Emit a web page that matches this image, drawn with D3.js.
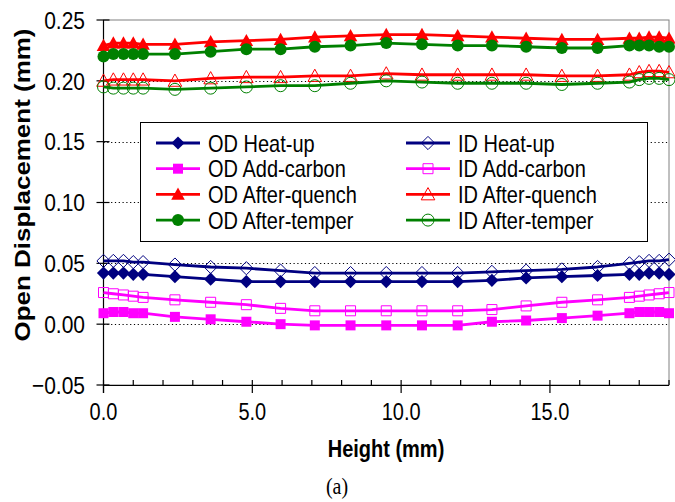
<!DOCTYPE html>
<html>
<head>
<meta charset="utf-8">
<script src="https://cdn.jsdelivr.net/npm/d3@7"></script>
<style>
  body { margin: 0; background: #fff; }
  text { font-family: Arial, "Liberation Sans", sans-serif; }
</style>
</head>
<body>
<svg id="chart" width="675" height="502"></svg>
<script>
// Measurement positions along the height (mm)
const heights = [0, 0.33, 0.67, 1.0, 1.33, 2.4, 3.6, 4.8, 5.95, 7.1, 8.3, 9.5, 10.7, 11.9, 13.05, 14.2, 15.4, 16.6, 17.67, 18.0, 18.33, 18.67, 19.0];

// Opening displacement (mm), outer-diameter side
const odHeatUp       = [0.042, 0.042, 0.042, 0.041, 0.041, 0.039, 0.037, 0.035, 0.035, 0.035, 0.035, 0.035, 0.035, 0.035, 0.036, 0.038, 0.039, 0.040, 0.041, 0.041, 0.042, 0.042, 0.041];
const odAddCarbon    = [0.009, 0.010, 0.010, 0.009, 0.009, 0.006, 0.004, 0.002, 0.000, -0.001, -0.001, -0.001, -0.001, -0.001, 0.002, 0.003, 0.005, 0.007, 0.009, 0.010, 0.010, 0.010, 0.009];
const odAfterQuench  = [0.229, 0.231, 0.231, 0.231, 0.230, 0.230, 0.232, 0.233, 0.234, 0.236, 0.237, 0.238, 0.238, 0.237, 0.236, 0.235, 0.234, 0.234, 0.235, 0.235, 0.236, 0.236, 0.235];
const odAfterTemper  = [0.220, 0.222, 0.222, 0.222, 0.222, 0.222, 0.224, 0.226, 0.226, 0.228, 0.229, 0.231, 0.230, 0.229, 0.229, 0.228, 0.227, 0.227, 0.229, 0.229, 0.229, 0.228, 0.228];

// Opening displacement (mm), inner-diameter side
const idHeatUp       = [0.052, 0.052, 0.052, 0.051, 0.051, 0.049, 0.047, 0.046, 0.044, 0.042, 0.042, 0.042, 0.042, 0.042, 0.043, 0.044, 0.045, 0.047, 0.050, 0.051, 0.052, 0.052, 0.053];
const idAddCarbon    = [0.026, 0.025, 0.024, 0.023, 0.022, 0.020, 0.018, 0.016, 0.013, 0.011, 0.011, 0.011, 0.011, 0.011, 0.012, 0.015, 0.018, 0.020, 0.022, 0.023, 0.024, 0.025, 0.026];
const idAfterQuench  = [0.200, 0.201, 0.201, 0.201, 0.201, 0.200, 0.202, 0.203, 0.203, 0.204, 0.204, 0.206, 0.205, 0.205, 0.205, 0.205, 0.204, 0.204, 0.205, 0.207, 0.208, 0.208, 0.207];
const idAfterTemper  = [0.195, 0.194, 0.194, 0.194, 0.194, 0.193, 0.194, 0.195, 0.196, 0.196, 0.198, 0.200, 0.199, 0.198, 0.198, 0.198, 0.197, 0.198, 0.199, 0.201, 0.202, 0.202, 0.201];

const xTicks = [0, 5, 10, 15];
const yTicks = [-0.05, 0.00, 0.05, 0.10, 0.15, 0.20, 0.25];
const gridValues = [0.00, 0.05, 0.10, 0.15, 0.20];

const seriesList = [
  { name: "OD Heat-up",      values: odHeatUp,      color: "#000080", shape: "diamond",  filled: true,  col: 0, row: 0 },
  { name: "OD Add-carbon",   values: odAddCarbon,   color: "#FF00FF", shape: "square",   filled: true,  col: 0, row: 1 },
  { name: "OD After-quench", values: odAfterQuench, color: "#FF0000", shape: "triangle", filled: true,  col: 0, row: 2 },
  { name: "OD After-temper", values: odAfterTemper, color: "#008000", shape: "circle",   filled: true,  col: 0, row: 3 },
  { name: "ID Heat-up",      values: idHeatUp,      color: "#000080", shape: "diamond",  filled: false, col: 1, row: 0 },
  { name: "ID Add-carbon",   values: idAddCarbon,   color: "#FF00FF", shape: "square",   filled: false, col: 1, row: 1 },
  { name: "ID After-quench", values: idAfterQuench, color: "#FF0000", shape: "triangle", filled: false, col: 1, row: 2 },
  { name: "ID After-temper", values: idAfterTemper, color: "#008000", shape: "circle",   filled: false, col: 1, row: 3 }
];

const svg = d3.select("#chart");
const pL = 103.5, pR = 669, pT = 20, pB = 385;
const TS = 1.18; // vertical stretch of the lettering

const x = d3.scaleLinear().domain([0, 19]).range([pL, pR]);
const y = d3.scaleLinear().domain([-0.05, 0.25]).range([pB, pT]);

// marker outlines centred on (0,0)
const markerPath = {
  diamond:  r => `M0,${-r}L${r},0L0,${r}L${-r},0Z`,
  square:   r => `M${-r},${-r}H${r}V${r}H${-r}Z`,
  triangle: r => `M0,${-r}L${r},${r * 0.8}L${-r},${r * 0.8}Z`,
  circle:   r => `M${-r},0A${r},${r} 0 1,0 ${r},0A${r},${r} 0 1,0 ${-r},0Z`
};
const markerSize = { diamond: 6.6, square: 5.0, triangle: 6.8, circle: 6.0 };

function stretchedText(g, tx, ty, str, opts) {
  const t = g.append("text")
    .attr("transform", `translate(${tx},${ty})` + (opts.rotate ? ` rotate(${opts.rotate}) scale(${TS},1)` : ` scale(1,${TS})`))
    .attr("text-anchor", opts.anchor || "start")
    .attr("font-size", opts.size)
    .attr("font-weight", opts.weight || "normal")
    .attr("fill", "#000")
    .text(str);
  if (opts.family) t.style("font-family", opts.family);
  return t;
}

// plot frame
svg.append("rect")
  .attr("x", pL).attr("y", pT)
  .attr("width", pR - pL).attr("height", pB - pT)
  .attr("fill", "#fff").attr("stroke", "#808080").attr("stroke-width", 1);

// dotted horizontal gridlines
svg.append("g").selectAll("line").data(gridValues).join("line")
  .attr("x1", pL).attr("x2", pR)
  .attr("y1", d => Math.round(y(d)) + 0.5).attr("y2", d => Math.round(y(d)) + 0.5)
  .attr("stroke", "#000").attr("stroke-width", 1.2)
  .attr("stroke-dasharray", "1.2,2.6");

// legend box sits over the gridlines
const legendBox = { x: 140, y: 122, w: 507, h: 119 };
svg.append("rect")
  .attr("x", legendBox.x + 0.5).attr("y", legendBox.y + 0.5)
  .attr("width", legendBox.w).attr("height", legendBox.h)
  .attr("fill", "#fff").attr("stroke", "#000").attr("stroke-width", 1);

// x axis with minor ticks every 1 mm
const xAxis = svg.append("g");
xAxis.append("line")
  .attr("x1", pL).attr("x2", pR)
  .attr("y1", pB + 0.5).attr("y2", pB + 0.5)
  .attr("stroke", "#000").attr("stroke-width", 1.2);
xAxis.selectAll("line.minor").data(d3.range(0, 20)).join("line")
  .attr("class", "minor")
  .attr("x1", d => x(d)).attr("x2", d => x(d))
  .attr("y1", pB - 5)
  .attr("y2", d => xTicks.includes(d) ? pB + 8 : pB)
  .attr("stroke", "#000").attr("stroke-width", 1.2);
xTicks.forEach(v => stretchedText(xAxis, x(v), 419.5, d3.format(".1f")(v), { anchor: "middle", size: 20 }));

// y axis
const yAxis = svg.append("g");
yAxis.append("line")
  .attr("x1", pL).attr("x2", pL)
  .attr("y1", pT).attr("y2", pB + 8)
  .attr("stroke", "#000").attr("stroke-width", 1.2);
yAxis.selectAll("line.tick").data(yTicks).join("line")
  .attr("class", "tick")
  .attr("x1", pL - 7).attr("x2", pL + 6)
  .attr("y1", d => y(d)).attr("y2", d => y(d))
  .attr("stroke", "#000").attr("stroke-width", 1.2);
yTicks.forEach(v => stretchedText(yAxis, 85, y(v) + 8.8, d3.format(".2f")(v), { anchor: "end", size: 21 }));

// axis titles and caption
stretchedText(svg, 30, 185, "Open Displacement (mm)", { anchor: "middle", size: 22, weight: "bold", rotate: -90 });
stretchedText(svg, 386, 456.5, "Height (mm)", { anchor: "middle", size: 20, weight: "bold" });
stretchedText(svg, 337, 494, "(a)", { anchor: "middle", size: 20, family: "'Times New Roman', 'Liberation Serif', serif" });

// data series
const lineGen = d3.line().x(d => x(d[0])).y(d => y(d[1]));
const plot = svg.append("g");
seriesList.forEach(s => {
  const pts = heights.map((h, i) => [h, s.values[i]]);
  plot.append("path")
    .attr("d", lineGen(pts))
    .attr("fill", "none").attr("stroke", s.color).attr("stroke-width", 2.8)
    .attr("stroke-linejoin", "round");
  plot.append("g").selectAll("path").data(pts).join("path")
    .attr("transform", d => `translate(${x(d[0])},${y(d[1])})`)
    .attr("d", markerPath[s.shape](markerSize[s.shape]))
    .attr("fill", s.filled ? s.color : "none")
    .attr("stroke", s.color).attr("stroke-width", s.filled ? 0 : 1);
});

// legend entries in two columns
const leg = svg.append("g");
seriesList.forEach(s => {
  const cx = s.col === 0 ? 178 : 428;
  const cy = 143 + s.row * 25.7;
  leg.append("line")
    .attr("x1", cx - 22).attr("x2", cx + 22).attr("y1", cy).attr("y2", cy)
    .attr("stroke", s.color).attr("stroke-width", 2.8);
  leg.append("path")
    .attr("transform", `translate(${cx},${cy})`)
    .attr("d", markerPath[s.shape](markerSize[s.shape]))
    .attr("fill", s.filled ? s.color : "none")
    .attr("stroke", s.color).attr("stroke-width", s.filled ? 0 : 1);
  stretchedText(leg, cx + 30, cy + 8.5, s.name, { size: 20 });
});
</script>
</body>
</html>
